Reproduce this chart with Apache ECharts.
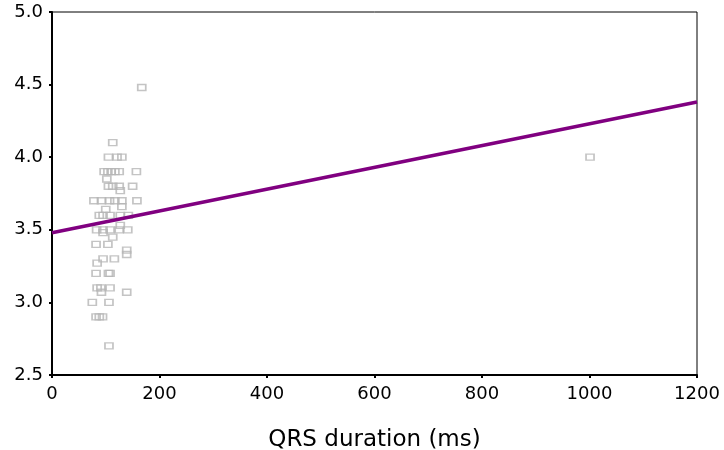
<!DOCTYPE html>
<html>
<head>
<meta charset="utf-8">
<script src="https://cdn.jsdelivr.net/npm/echarts@6/dist/echarts.min.js"></script>
<style>html,body{margin:0;padding:0;background:#fff}#c{width:724px;height:450px}</style>
</head>
<body>
<div id="c"></div>
<script>
// QRS duration (ms) vs value
var qrsMs = [167,113,105,121,130,
  97,104,110,117,125,157,
  102,
  105,113,125,150,
  127,
  78,92,107,117,130,158,
  130,100,
  88,95,108,127,142,
  127,
  83,95,108,125,141,
  95,113,
  82,104,
  139,139,
  95,116,
  84,
  82,105,108,
  84,91,108,92,139,
  75,106,
  82,88,94,
  106,
  1001];
var yVals = [4.48,4.10,4.0,4.0,4.0,
  3.9,3.9,3.9,3.9,3.9,3.9,
  3.85,
  3.8,3.8,3.8,3.8,
  3.77,
  3.7,3.7,3.7,3.7,3.7,3.7,
  3.66,3.64,
  3.6,3.6,3.6,3.6,3.6,
  3.53,
  3.5,3.5,3.5,3.5,3.5,
  3.48,3.45,
  3.4,3.4,
  3.36,3.33,
  3.3,3.3,
  3.27,
  3.2,3.2,3.2,
  3.1,3.1,3.1,3.07,3.07,
  3.0,3.0,
  2.9,2.9,2.9,
  2.7,
  4.0];
var fitX = [0, 1200];
var fitY = [3.48, 4.38];
var xTicks = [0,200,400,600,800,1000,1200];
var yTicks = [2.5,3.0,3.5,4.0,4.5,5.0];

var pts = qrsMs.map(function(x,i){return [x,yVals[i]];});
var fit = fitX.map(function(x,i){return [x,fitY[i]];});

var chart = echarts.init(document.getElementById('c'), null, {renderer:'canvas'});
chart.setOption({
  animation:false,
  backgroundColor:'#fff',
  grid:{left:52,right:27,top:12,bottom:75,containLabel:false,outerBoundsMode:'none',
    show:true,borderColor:'#000',borderWidth:1,backgroundColor:'transparent'},
  xAxis:{type:'value',min:xTicks[0],max:xTicks[xTicks.length-1],interval:200,
    splitLine:{show:false},
    axisLine:{show:true,onZero:false,lineStyle:{color:'#000',width:2}},
    axisTick:{show:true,inside:false,length:3,lineStyle:{color:'#000',width:2}},
    axisLabel:{color:'#000',fontFamily:'DejaVu Sans',fontSize:18,margin:10,
      formatter:function(v){return String(v);}},
    name:'QRS duration (ms)',nameLocation:'middle',nameGap:54,
    nameTextStyle:{color:'#000',fontFamily:'DejaVu Sans',fontSize:23}
  },
  yAxis:{type:'value',min:yTicks[0],max:yTicks[yTicks.length-1],interval:0.5,
    splitLine:{show:false},
    axisLine:{show:true,onZero:false,lineStyle:{color:'#000',width:2}},
    axisTick:{show:true,inside:false,length:3,lineStyle:{color:'#000',width:2}},
    axisLabel:{color:'#000',fontFamily:'DejaVu Sans',fontSize:18,margin:9,
      formatter:function(v){return v.toFixed(1);}}
  },
  series:[
    {type:'scatter',data:pts,symbol:'rect',symbolSize:[8,6],z:2,
      itemStyle:{color:'rgba(255,255,255,0)',borderColor:'#b5b5b5',borderWidth:1.5}},
    {type:'line',data:fit,showSymbol:false,symbol:'none',z:3,
      lineStyle:{color:'#800080',width:3.5}}
  ]
});
</script>
</body>
</html>
